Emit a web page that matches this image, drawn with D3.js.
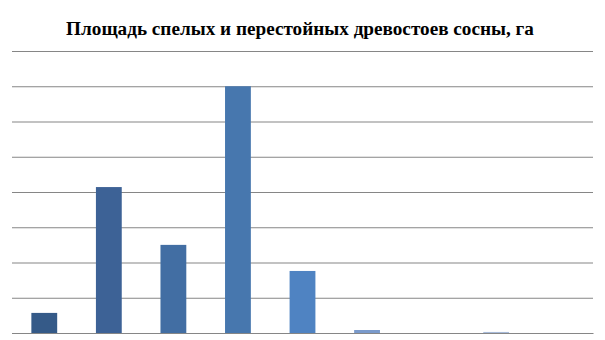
<!DOCTYPE html>
<html><head><meta charset="utf-8">
<script src="https://cdn.jsdelivr.net/npm/d3@7"></script>
<style>body{margin:0;background:#fff}</style>
</head><body><div id="chart"></div>
<script>
const title = "Площадь спелых и перестойных древостоев сосны, га";
const categories = ["1","2","3","4","5","6","7","8","9"];
const values = [570, 4140, 2500, 7000, 1760, 85, 0, 30, 0];
const colors = ["#355a88","#3d6296","#426ea3","#4777ae","#4f83c2","#7a9acb","#93acd3","#a8bbd9","#bccbe3"];
const yTicks = [0,1000,2000,3000,4000,5000,6000,7000,8000];

const W = 605, H = 340;
const m = {top: 51, right: 12, bottom: 7, left: 12};
const svg = d3.select("#chart").append("svg").attr("width", W).attr("height", H);
svg.append("rect").attr("width", W).attr("height", H).attr("fill", "#fff");

const x = d3.scaleBand().domain(categories).range([m.left, 593]).padding(0);
const y = d3.scaleLinear().domain([0, 8000]).range([333, m.top]);

svg.append("text").attr("x", 300).attr("y", 35).attr("text-anchor", "middle")
  .attr("font-family", "Liberation Serif, Times New Roman, serif").attr("font-weight", "bold")
  .attr("font-size", 19.2).attr("fill", "#000").text(title);

const grid = svg.append("g").attr("transform", `translate(${m.left},0)`)
  .call(d3.axisLeft(y).tickValues(yTicks).tickSize(-(593 - m.left)).tickFormat(""));
grid.select(".domain").remove();
grid.selectAll(".tick line").attr("stroke", "#868686").attr("stroke-width", 1.2);

const bw = x.bandwidth() * 0.4;
svg.append("g").selectAll("rect").data(values).join("rect")
  .attr("x", (d, i) => x(categories[i]) + (x.bandwidth() - bw) / 2)
  .attr("y", d => y(d))
  .attr("width", bw)
  .attr("height", d => y(0) - y(d))
  .attr("fill", (d, i) => colors[i]);

const xa = svg.append("g").attr("transform", `translate(0,${y(0)})`)
  .call(d3.axisBottom(x).tickSize(0).tickFormat(""));
xa.select(".domain").attr("stroke", "#868686").attr("stroke-width", 1.2);
</script></body></html>
